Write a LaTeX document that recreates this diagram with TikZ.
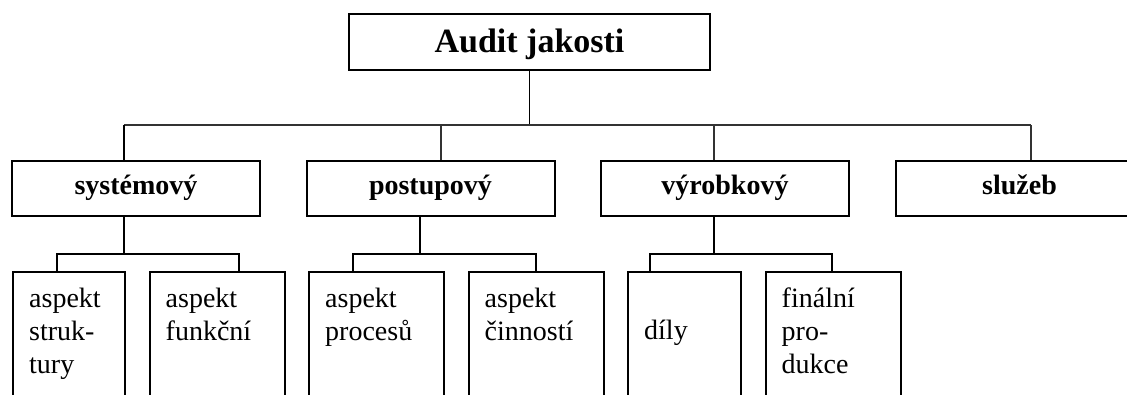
\documentclass[tikz,border=0pt]{standalone}
\usepackage{fontspec}
\setmainfont{Liberation Serif}
\usetikzlibrary{positioning}

\begin{document}
\begin{tikzpicture}[
    x=1pt, y=1pt,
    node distance=44.5pt,
    root/.style={rectangle, draw=black, line width=2pt, minimum width=361pt, minimum height=56pt, text height=24pt, text depth=2pt, font=\fontsize{34}{40}\selectfont\bfseries},
    kind/.style={rectangle, draw=black, line width=2pt, minimum width=248pt, minimum height=55pt, text height=20pt, text depth=7pt, font=\fontsize{28}{34}\selectfont\bfseries},
    leaf/.style={rectangle, draw=black, line width=2pt, anchor=north, minimum width=#1, minimum height=160pt, inner sep=0pt},
    leaftext/.style={anchor=north west, align=left, inner sep=0pt, xshift=17pt, yshift=-16.5pt, font=\fontsize{28}{33}\selectfont},
    link/.style={line width=1.8pt},
    bus/.style={line width=1.2pt, draw=black!80}
]
    \useasboundingbox (0,0) rectangle (1127,394);
    \clip (0,0) rectangle (1127,394);

    \coordinate (bus) at (0,269);
    \coordinate (sub) at (0,140);

    \node (audit) [root] at (529.5,352) {Audit jakosti};

    \node (sys) [kind] at (136,205.5) {systémový};
    \node (post) [kind, right=of sys] {postupový};
    \node (vyr) [kind, right=of post] {výrobkový};
    \node (sluz) [kind, right=of vyr] {služeb};

    \node (struk) [leaf=112pt, label={[leaftext]north west:aspekt\\struk-\\tury}] at (69,123) {};
    \node (funk) [leaf=135pt, right=22.5pt of struk, label={[leaftext]north west:aspekt\\funkční}] {};
    \node (proc) [leaf=135pt, right=22.5pt of funk, label={[leaftext]north west:aspekt\\procesů}] {};
    \node (cinn) [leaf=135pt, right=22.5pt of proc, label={[leaftext]north west:aspekt\\činností}] {};
    \node (dily) [leaf=113pt, right=22.5pt of cinn, label={[leaftext, yshift=-32pt]north west:díly}] {};
    \node (final) [leaf=135pt, right=22.5pt of dily, label={[leaftext]north west:finální\\pro-\\dukce}] {};

    % audit jakosti -> four kinds
    \draw [link] (audit.south) -- (audit.south |- bus);
    \draw [bus] ([xshift=-12pt]sys.north |- bus) -- ([xshift=11.5pt]sluz.north |- bus);
    \draw [link] ([xshift=-12pt]sys.north) -- ([xshift=-12pt]sys.north |- bus);
    \draw [bus] ([xshift=10.5pt]post.north) -- ([xshift=10.5pt]post.north |- bus);
    \draw [bus] ([xshift=-11pt]vyr.north) -- ([xshift=-11pt]vyr.north |- bus);
    \draw [bus] ([xshift=11.5pt]sluz.north) -- ([xshift=11.5pt]sluz.north |- bus);

    % kinds -> aspects
    \draw [link] ([xshift=-12pt]sys.south) -- ([xshift=-12pt]sys.south |- sub);
    \draw [link] ([xshift=-12pt]struk.north) |- ([xshift=22pt]funk.north |- sub) -- ([xshift=22pt]funk.north);
    \draw [link] ([xshift=-10.5pt]post.south) -- ([xshift=-10.5pt]post.south |- sub);
    \draw [link] ([xshift=-23.5pt]proc.north) |- (cinn.north |- sub) -- (cinn.north);
    \draw [link] ([xshift=-11pt]vyr.south) -- ([xshift=-11pt]vyr.south |- sub);
    \draw [link] ([xshift=-34.5pt]dily.north) |- ([xshift=-1pt]final.north |- sub) -- ([xshift=-1pt]final.north);
\end{tikzpicture}
\end{document}
